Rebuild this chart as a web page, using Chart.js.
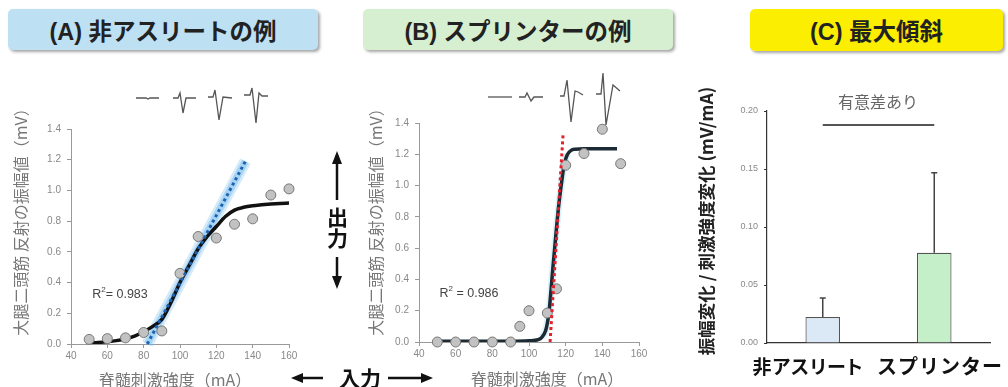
<!DOCTYPE html>
<html>
<head>
<meta charset="utf-8">
<script src="https://cdn.jsdelivr.net/npm/chart.js@4"></script>
<style>
  body { margin: 0; width: 1008px; height: 387px; overflow: hidden; background: #fff;
         font-family: "Liberation Sans", "Noto Sans CJK JP", sans-serif; position: relative; }
  canvas { position: absolute; }
  .box { position: absolute; border-radius: 5px; box-shadow: 2px 2px 3px rgba(0,0,0,0.35);
         font-weight: bold; font-size: 23.5px; color: #222; display: flex; align-items: center;
         justify-content: center; }
  .t { position: absolute; white-space: nowrap; transform-origin: center; }
  svg { position: absolute; left: 0; top: 0; }
</style>
</head>
<body>
<div class="box" style="left:8px;top:9px;width:310px;height:41px;background:#bde0f3;">(A) 非アスリートの例</div>
<div class="box" style="left:363px;top:9px;width:310px;height:41px;background:#d6efd0;">(B) スプリンターの例</div>
<div class="box" style="left:750px;top:9px;width:253px;height:42px;background:#fbee00;">(C) 最大傾斜</div>

<canvas id="chartA" width="300" height="327" style="left:0;top:60px;"></canvas>
<canvas id="chartB" width="260" height="327" style="left:395px;top:60px;"></canvas>
<canvas id="chartC" width="308" height="327" style="left:700px;top:60px;"></canvas>

<svg width="1008" height="387">
  <g fill="none" stroke="#555" stroke-width="1.3">
    <polyline points="136,98 146,98 148,99 150,98 159,98"/>
    <polyline points="173,98 178,98 180,93 183,113 186,98 196,98"/>
    <polyline points="208,97 213,97 215,90 219,120 223,97 232,98"/>
    <polyline points="244,95 250,95 252,88 256,123 259,93 262,96 268,96"/>
    <polyline points="488,97 512,97"/>
    <polyline points="519,97 525,97 527,93 531,101 534,97 543,97"/>
    <polyline points="560,96 564,96 567,80 571,122 575,91 578,92 583,95"/>
    <polyline points="596,94 601,94 603,73 606,125 613,85 620,91"/>
  </g>
  <g stroke="#111" stroke-width="2.5" fill="#111">
    <line x1="337" y1="160" x2="337" y2="200"/>
    <line x1="337" y1="257" x2="337" y2="281"/>
    <polygon points="337,151 332,164 342,164" stroke="none"/>
    <polygon points="337,289 332,276 342,276" stroke="none"/>
    <line x1="300" y1="378" x2="323" y2="378"/>
    <line x1="388" y1="378" x2="424" y2="378"/>
    <polygon points="291,378 303,373 303,383" stroke="none"/>
    <polygon points="433,378 421,373 421,383" stroke="none"/>
  </g>
</svg>

<script>
// ----- (A) non-athlete -----
const aPointX = [50, 60, 70, 80, 90, 100, 110, 120, 130, 140, 150, 160];
const aPointY = [0.03, 0.035, 0.04, 0.075, 0.085, 0.46, 0.70, 0.69, 0.78, 0.815, 0.97, 1.01];
const aFitX = [50, 55, 60, 65, 70, 75, 80, 85, 90, 95, 100, 105, 110, 115, 120, 125, 130, 135, 140, 145, 150, 155, 160];
const aFitY = [0.007, 0.01, 0.015, 0.022, 0.033, 0.052, 0.08, 0.115, 0.16, 0.27, 0.4, 0.51, 0.62, 0.7, 0.765, 0.83, 0.872, 0.89, 0.9, 0.906, 0.911, 0.915, 0.918];
const aSlopeX = [82, 136];
const aSlopeY = [0, 1.19];

// ----- (B) sprinter -----
const bPointX = [50, 60, 70, 80, 90, 95, 100, 110, 115, 120, 130, 140, 150];
const bPointY = [0, 0, 0, 0, 0, 0.10, 0.20, 0.185, 0.34, 1.13, 1.205, 1.36, 1.14];
const bFitX = [50, 60, 70, 80, 90, 100, 105, 107, 109, 110, 111, 112, 113, 114, 115, 116, 117, 118, 119, 120, 121, 123, 125, 130, 140, 148];
const bFitY = [0.005, 0.005, 0.005, 0.005, 0.005, 0.008, 0.015, 0.03, 0.07, 0.12, 0.2, 0.33, 0.47, 0.6, 0.73, 0.85, 0.95, 1.04, 1.12, 1.17, 1.2, 1.225, 1.232, 1.235, 1.235, 1.235];
const bSlopeX = [111.5, 118.6];
const bSlopeY = [0, 1.33];

// ----- (C) max slope -----
const cLabels = ['非アスリート', 'スプリンター'];
const cMeans = [0.0224, 0.0778];
const cErrors = [0.0163, 0.069];
const cColors = ['#dbe8f6', '#c4efc8'];
const sigLabel = '有意差あり';
const sigLevel = 0.188;

const xTicks = [40, 60, 80, 100, 120, 140, 160];
const yTicks = [0, 0.2, 0.4, 0.6, 0.8, 1.0, 1.2, 1.4];
const cTicks = [0, 0.05, 0.10, 0.15, 0.20];

const yTitle = '大腿二頭筋 反射の振幅値（mV）';
const xTitle = '脊髄刺激強度（mA）';

function pts(xs, ys) {
    return xs.map((x, i) => ({ x: x, y: ys[i] }));
}

function put(html, x, y, style, rot) {
    const d = document.createElement('div');
    d.className = 't';
    d.innerHTML = html;
    d.style.cssText += style;
    d.style.left = x + 'px';
    d.style.top = y + 'px';
    d.style.transform = 'translate(-50%,-50%)' + (rot ? ' rotate(' + rot + 'deg)' : '');
    document.body.appendChild(d);
}

// ===== CURVE CHART OPTIONS =====
function curveOptions(padding, yWidth, xHeight) {
    const grid = { drawOnChartArea: false, tickLength: 4, color: '#999' };
    return {
        animation: false,
        responsive: false,
        events: [],
        layout: { padding: padding },
        plugins: { legend: { display: false }, tooltip: { enabled: false } },
        scales: {
            x: {
                type: 'linear', min: 40, max: 160,
                afterBuildTicks: s => { s.ticks = xTicks.map(v => ({ value: v })); },
                ticks: { color: '#888', font: { size: 10 }, padding: 2 },
                grid: grid,
                border: { color: '#999' },
                afterFit: s => { s.height = xHeight; }
            },
            y: {
                min: 0, max: 1.4,
                afterBuildTicks: s => { s.ticks = yTicks.map(v => ({ value: v })); },
                ticks: { color: '#888', font: { size: 10 }, padding: 6, callback: v => Number(v).toFixed(1) },
                grid: grid,
                border: { color: '#999' },
                afterFit: s => { s.width = yWidth; }
            }
        }
    };
}

function dotStyle() {
    return { showLine: false, pointRadius: 5, pointBackgroundColor: '#c2c2c2',
             pointBorderColor: '#777', pointBorderWidth: 1, clip: false, order: 1 };
}

new Chart(document.getElementById('chartA'), {
    type: 'scatter',
    data: {
        datasets: [
            { data: pts(aSlopeX, aSlopeY), showLine: true, borderColor: 'rgba(120,190,240,0.3)', borderWidth: 12, pointRadius: 0, order: 4, clip: false },
            { data: pts(aSlopeX, aSlopeY), showLine: true, borderColor: 'rgba(110,185,240,0.45)', borderWidth: 7, pointRadius: 0, order: 3, clip: false },
            { data: pts(aFitX, aFitY), showLine: true, borderColor: '#111', borderWidth: 3.5, pointRadius: 0, cubicInterpolationMode: 'monotone', order: 2 },
            Object.assign({ data: pts(aPointX, aPointY) }, dotStyle()),
            { data: pts(aSlopeX, aSlopeY), showLine: true, borderColor: '#1f64b0', borderWidth: 3, borderDash: [3, 3], pointRadius: 0, order: 0, clip: false }
        ]
    },
    options: curveOptions({ left: 10, top: 69, right: 11, bottom: 0 }, 61, 43)
});

new Chart(document.getElementById('chartB'), {
    type: 'scatter',
    data: {
        datasets: [
            { data: pts(bFitX.slice(7, 21), bFitY.slice(7, 21)), showLine: true, borderColor: 'rgba(170,225,245,0.4)', borderWidth: 7, pointRadius: 0, cubicInterpolationMode: 'monotone', order: 3 },
            { data: pts(bFitX, bFitY), showLine: true, borderColor: '#1b2a33', borderWidth: 3.5, pointRadius: 0, cubicInterpolationMode: 'monotone', order: 2 },
            Object.assign({ data: pts(bPointX, bPointY) }, dotStyle()),
            { data: pts(bSlopeX, bSlopeY), showLine: true, borderColor: '#e3202c', borderWidth: 3, borderDash: [3, 3], pointRadius: 0, order: 0, clip: false }
        ]
    },
    options: curveOptions({ left: 0, top: 63, right: 16, bottom: 0 }, 24, 45)
});

// ===== BAR CHART (C) =====
const extrasC = {
    id: 'extrasC',
    afterDatasetsDraw(chart) {
        const { ctx, scales: { x, y } } = chart;
        ctx.save();
        ctx.strokeStyle = '#444';
        ctx.lineWidth = 1.5;
        cMeans.forEach((m, i) => {
            const px = x.getPixelForValue(i);
            const top = y.getPixelForValue(m + cErrors[i]);
            ctx.beginPath();
            ctx.moveTo(px, y.getPixelForValue(m));
            ctx.lineTo(px, top);
            ctx.moveTo(px - 3, top);
            ctx.lineTo(px + 3, top);
            ctx.stroke();
        });
        const sy = y.getPixelForValue(sigLevel);
        ctx.strokeStyle = '#555';
        ctx.lineWidth = 2;
        ctx.beginPath();
        ctx.moveTo(x.getPixelForValue(0), sy);
        ctx.lineTo(x.getPixelForValue(1), sy);
        ctx.stroke();
        ctx.fillStyle = '#666';
        ctx.font = '16px "Noto Sans CJK JP"';
        ctx.textAlign = 'center';
        ctx.textBaseline = 'middle';
        ctx.fillText(sigLabel, (x.getPixelForValue(0) + x.getPixelForValue(1)) / 2 - 0.5, sy - 23);
        ctx.restore();
    }
};

new Chart(document.getElementById('chartC'), {
    type: 'bar',
    data: {
        labels: cLabels,
        datasets: [{
            data: cMeans,
            backgroundColor: cColors,
            borderColor: '#555',
            borderWidth: 1.2,
            barPercentage: 0.31,
            categoryPercentage: 1
        }]
    },
    options: {
        animation: false,
        responsive: false,
        events: [],
        layout: { padding: { left: 0, top: 51, right: 18, bottom: 0 } },
        plugins: { legend: { display: false }, tooltip: { enabled: false } },
        scales: {
            x: {
                ticks: { display: false },
                grid: { display: false },
                border: { color: '#333', width: 1.2 },
                afterFit: s => { s.height = 44; }
            },
            y: {
                min: 0, max: 0.2,
                afterBuildTicks: s => { s.ticks = cTicks.map(v => ({ value: v })); },
                ticks: { color: '#888', font: { size: 9 }, padding: 6, callback: v => Number(v).toFixed(2) },
                grid: { drawOnChartArea: false, tickLength: 3, color: '#333' },
                border: { color: '#333', width: 1.2 },
                afterFit: s => { s.width = 67; }
            }
        }
    },
    plugins: [extrasC]
});

// ===== TEXT LABELS =====
const grayTitle = 'font-size:16px;color:#777;font-family:"Noto Sans CJK JP";';
put(yTitle, 20, 218, grayTitle, -90);
put(yTitle, 375, 218, grayTitle, -90);
put(xTitle, 175, 379, grayTitle);
put(xTitle, 547, 378, grayTitle);
put('R<sup style="font-size:8px">2</sup>= 0.983', 120, 293, 'font-size:12.5px;color:#444;');
put('R<sup style="font-size:8px">2</sup> = 0.986', 469, 292, 'font-size:12.5px;color:#444;');
put('振幅変化 / 刺激強度変化 (mV/mA)', 705, 221, 'font-size:17.5px;font-weight:bold;color:#222;font-family:"Noto Sans CJK JP";', -90);
put('出力', 337, 228, 'font-size:21px;font-weight:bold;color:#111;font-family:"Noto Sans CJK JP";writing-mode:vertical-rl;line-height:1;');
put('入力', 360, 377, 'font-size:21px;font-weight:bold;color:#111;font-family:"Noto Sans CJK JP";');
put(cLabels[0], 808, 365, 'font-size:19px;font-weight:bold;color:#111;font-family:"Noto Sans CJK JP";font-feature-settings:"palt";letter-spacing:1px;');
put(cLabels[1], 940, 365, 'font-size:20px;font-weight:bold;color:#111;font-family:"Noto Sans CJK JP";letter-spacing:1px;');
</script>
</body>
</html>
